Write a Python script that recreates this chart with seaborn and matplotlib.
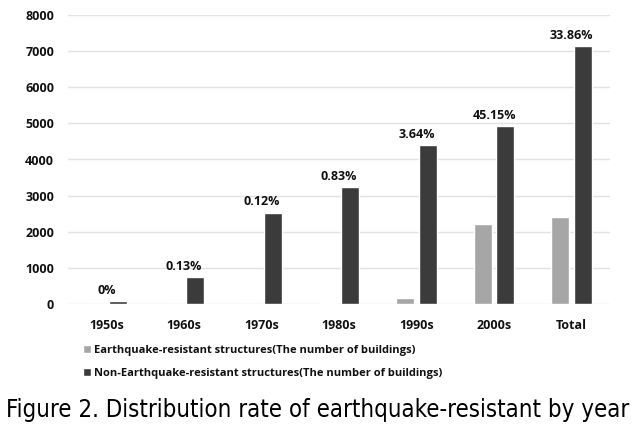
import matplotlib
matplotlib.use('Agg')
import matplotlib.pyplot as plt
import seaborn as sns
import pandas as pd

# chart data
decades = ['1950s', '1960s', '1970s', '1980s', '1990s', '2000s', 'Total']
resistant = [0, 1, 3, 27, 160, 2226, 2418]
non_resistant = [80, 740, 2530, 3240, 4400, 4930, 7140]
rate_labels = ['0%', '0.13%', '0.12%', '0.83%', '3.64%', '45.15%', '33.86%']
series_names = ['Earthquake-resistant structures(The number of buildings)',
                'Non-Earthquake-resistant structures(The number of buildings)']
y_ticks = [0, 1000, 2000, 3000, 4000, 5000, 6000, 7000, 8000]

df = pd.DataFrame({
    'decade': decades * 2,
    'count': resistant + non_resistant,
    'series': [series_names[0]] * len(decades) + [series_names[1]] * len(decades),
})

sns.set_style('white')
plt.rcParams['font.family'] = ['Open Sans', 'DejaVu Sans']

fig = plt.figure(figsize=(6.35, 4.4), dpi=100)
ax = fig.add_axes([0.107, 0.309, 0.854, 0.657])

sns.barplot(data=df, x='decade', y='count', hue='series', order=decades,
            hue_order=series_names, palette=['#a6a6a6', '#3b3b3b'],
            width=0.58, gap=0.2, saturation=1, ax=ax, legend=True)

ax.set_xlim(-0.5, 6.5)
ax.set_ylim(0, 8000)
ax.set_yticks(y_ticks)
ax.yaxis.grid(True, color='#e3e3e3', linewidth=1)
ax.set_axisbelow(True)
for s in ax.spines.values():
    s.set_visible(False)
ax.set_xlabel('')
ax.set_ylabel('')
ax.tick_params(axis='both', length=0, labelsize=9, colors='#111111')
ax.tick_params(axis='x', pad=11)
ax.tick_params(axis='y', pad=10)
for lab in ax.get_xticklabels() + ax.get_yticklabels():
    lab.set_fontweight('bold')

# rate labels above the dark bars
for i, txt in enumerate(rate_labels):
    ax.annotate(txt, (i, non_resistant[i]), xytext=(0, 3), textcoords='offset points',
                ha='center', va='bottom', fontsize=9, fontweight='bold', color='#111111')

leg = ax.legend(loc='upper left', bbox_to_anchor=(0.02, -0.125), frameon=False,
                fontsize=8, handlelength=0.7, handleheight=0.7, handletextpad=0.3,
                labelspacing=1.1, borderaxespad=0)
for t in leg.get_texts():
    t.set_fontweight('bold')
    t.set_color('#111111')

fig.text(0.5, 0.068, 'Figure 2. Distribution rate of earthquake-resistant by year',
         ha='center', va='center', fontsize=17.2, color='#000000',
         family='DejaVu Sans', fontstretch='condensed')

fig.savefig('out.png', dpi=100, facecolor='white')
